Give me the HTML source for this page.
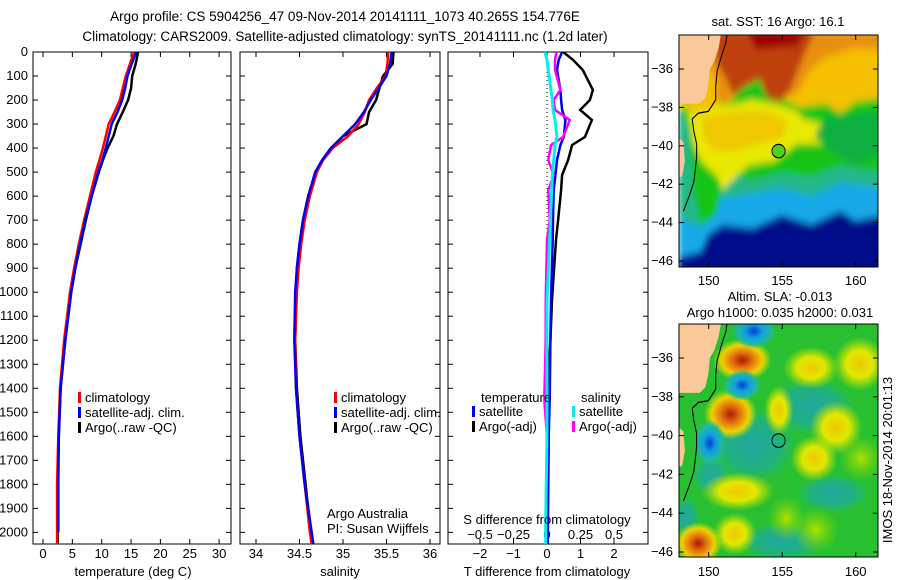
<!DOCTYPE html>
<html><head><meta charset="utf-8"><style>
body{margin:0;background:#fff;}
svg{display:block;font-family:"Liberation Sans",sans-serif;}
text{font-size:12px;fill:#000;}
text.big{font-size:13.5px;}
text.lab{font-size:13px;}
text.leg{font-size:13px;}
</style></head><body>
<svg id="fig" width="900" height="580" viewBox="0 0 900 580">
<defs>
<filter id="blur1" x="-5%" y="-5%" width="110%" height="110%"><feGaussianBlur stdDeviation="0.2"/></filter>
<clipPath id="clipMap1"><rect x="679" y="35" width="199" height="232"/></clipPath>
<clipPath id="clipMap2"><rect x="679" y="324" width="199" height="233"/></clipPath>
<clipPath id="clipP1"><rect x="33" y="52" width="198" height="492"/></clipPath>
<clipPath id="clipP2"><rect x="240" y="52" width="200" height="492"/></clipPath>
<clipPath id="clipP3"><rect x="448" y="52" width="200" height="492"/></clipPath>
</defs>
<text class="big" x="345" y="21" text-anchor="middle">Argo profile: CS 5904256_47 09-Nov-2014 20141111_1073 40.265S 154.776E</text>
<text class="big" x="345" y="41" text-anchor="middle">Climatology: CARS2009. Satellite-adjusted climatology: synTS_20141111.nc (1.2d later)</text>

<g id="p1"></g>
<g id="p2"></g>
<g id="p3"></g>

<g>
<text class="lab" x="778" y="26" text-anchor="middle">sat. SST: 16 Argo: 16.1</text>
<g clip-path="url(#clipMap1)">
<svg x="679" y="35" width="199" height="232" viewBox="148 34.23 13.55 12.07" preserveAspectRatio="none">
<g filter="url(#blur1)">
<rect x="148" y="34" width="14" height="13" fill="#00108a"/>
<polygon points="148,34 162,34 162,43.6 160,43.9 159,43.4 157,44.1 155,43.6 153,44.3 151,44.1 150,44.6 149.5,45.5 148,45.8" fill="#18a8e8"/>
<polygon points="148,34 162,34 162,42.2 159,41.9 157,42.6 155,42.2 152,42.6 150,42.8 149.6,44.2 148,43.8" fill="#20b888"/>
<polygon points="148,34 162,34 162,41.4 159,41 157,41.6 155,41.4 153,41.8 151,41.4 150.6,43.5 149.5,44.2 149,42.6 148.6,39 148,38" fill="#18c418"/>
<polygon points="148.6,38.2 150,38 152,37.8 153,37.6 155,37.9 156,38.2 156.5,38.6 158,38.9 158.5,39.9 156,39.9 154.5,40.8 152.8,41.0 152,41.5 151,42.3 150.6,41.6 149.5,40.8 149,40" fill="#e8e800"/>
<polygon points="149.5,38.5 152,38.2 154,38.2 155.4,38.7 155,39.6 153,40.0 151.5,40.3 150.3,40.2 149.7,39.6" fill="#f0c800"/>
<polygon points="148,34 162,34 162,37.5 160,37.7 159,38.3 158,37.8 156.2,38.0 155,37.5 154.6,36.2 153,36.2 151.5,37.7 149.5,38.2 148,38" fill="#f4c000"/>
<polygon points="149.5,34 162,34 162,35 160,34.9 158,35.4 157,36 156,37.3 155.5,37.4 154.8,36.3 153,35.9 151.7,36.6 151.5,37.7 150.6,37.7 150.5,36.6 149.5,35" fill="#e89010"/>
<polygon points="150.3,34 157.3,34 156.5,35.3 155.5,37.2 154.9,37.7 154,37.5 153.5,36.5 152.5,36.9 151.7,37.4 151.2,36.5 150.6,35.7" fill="#c0400c"/>
<polygon points="152.5,34 156.8,34 156,34.8 153.3,35.0" fill="#a00000"/>
<polygon points="158,38.5 161.6,38.2 161.6,40.5 160,41 158.4,40.3 157.2,39.5" fill="#10b040"/>
</g>
<polygon points="148,34 150.9,34 150.7,34.9 150.4,35.6 150.1,36 150,36.8 149.8,37.5 149.4,37.8 148,37.8" fill="#f9c99a"/>
<polygon points="148,39.6 148.3,39.8 148.4,40.8 148.2,41.6 148,41.6" fill="#f9c99a"/>
<polyline points="151.3,34 151.2,34.6 150.9,35.3 150.6,36.1 150.5,36.9 150.5,37.6 150.0,38.2 149.3,38.3 148.9,38.6 149.0,39.2 149.2,39.9 149.2,40.6 149.1,41.3 149.0,41.9 148.7,42.6 148.3,43.4" fill="none" stroke="#000" stroke-width="0.07"/>
<ellipse cx="154.78" cy="40.27" rx="0.45" ry="0.35" fill="#50d020" stroke="#000" stroke-width="0.06"/>
</svg>
</g>
<rect x="679" y="35" width="199" height="232" fill="none" stroke="#000" stroke-width="1"/>
<g id="map1ticks"></g>
</g>

<g>
<text class="lab" x="780" y="301" text-anchor="middle">Altim. SLA: -0.013</text>
<text class="lab" x="780" y="317" text-anchor="middle">Argo h1000: 0.035 h2000: 0.031</text>
<g clip-path="url(#clipMap2)">
<svg x="679" y="324" width="199" height="233" viewBox="148 34.23 13.55 12.07" preserveAspectRatio="none">
<defs>
<radialGradient id="gRed"><stop offset="0" stop-color="#b01800"/><stop offset="0.35" stop-color="#e07010"/><stop offset="0.7" stop-color="#f0d000"/><stop offset="1" stop-color="#e0e800" stop-opacity="0"/></radialGradient>
<radialGradient id="gYel"><stop offset="0" stop-color="#f0c800"/><stop offset="0.5" stop-color="#e0e800"/><stop offset="1" stop-color="#c0e000" stop-opacity="0"/></radialGradient>
<radialGradient id="gBlue"><stop offset="0" stop-color="#0040d0"/><stop offset="0.4" stop-color="#10a0e0"/><stop offset="0.75" stop-color="#20b8a0"/><stop offset="1" stop-color="#20b890" stop-opacity="0"/></radialGradient>
<radialGradient id="gTeal"><stop offset="0" stop-color="#20a8a0"/><stop offset="0.6" stop-color="#20b080"/><stop offset="1" stop-color="#20b880" stop-opacity="0"/></radialGradient>
<radialGradient id="gLG"><stop offset="0" stop-color="#b0e000"/><stop offset="1" stop-color="#80d800" stop-opacity="0"/></radialGradient>
</defs>
<rect x="148" y="34" width="14" height="13" fill="#28c030"/>
<ellipse cx="153" cy="40.5" rx="3" ry="2" fill="url(#gTeal)"/>
<ellipse cx="157" cy="38.5" rx="3" ry="1.5" fill="url(#gTeal)"/>
<ellipse cx="155" cy="45.5" rx="3" ry="1" fill="url(#gTeal)"/>
<ellipse cx="158.5" cy="43" rx="2.5" ry="1" fill="url(#gTeal)"/>
<ellipse cx="150.2" cy="42.1" rx="1.3" ry="1" fill="url(#gTeal)"/>
<ellipse cx="148.5" cy="44.2" rx="0.9" ry="1" fill="url(#gTeal)"/>
<ellipse cx="152.3" cy="36.1" rx="2" ry="1.1" fill="url(#gRed)"/>
<ellipse cx="151.5" cy="38.9" rx="1.8" ry="1.3" fill="url(#gRed)"/>
<ellipse cx="149.3" cy="45.6" rx="1.6" ry="1.1" fill="url(#gRed)"/>
<ellipse cx="160.3" cy="36.3" rx="1.8" ry="1.4" fill="url(#gYel)"/>
<ellipse cx="157" cy="36.5" rx="1.9" ry="1.1" fill="url(#gYel)"/>
<ellipse cx="154.8" cy="38.7" rx="1" ry="1.3" fill="url(#gYel)"/>
<ellipse cx="157.2" cy="41.2" rx="1.6" ry="1.2" fill="url(#gYel)"/>
<ellipse cx="152" cy="42.9" rx="2.5" ry="1" fill="url(#gYel)"/>
<ellipse cx="151.8" cy="45.1" rx="1.5" ry="1.1" fill="url(#gYel)"/>
<ellipse cx="158.7" cy="39.6" rx="1.8" ry="1.4" fill="url(#gYel)"/>
<ellipse cx="160.4" cy="41.2" rx="1.5" ry="1.2" fill="url(#gLG)"/>
<ellipse cx="157.3" cy="44.9" rx="1.6" ry="1.2" fill="url(#gLG)"/>
<ellipse cx="155.3" cy="44.3" rx="1.3" ry="1.2" fill="url(#gLG)"/>
<ellipse cx="153.1" cy="34.6" rx="1.5" ry="0.9" fill="url(#gBlue)"/>
<ellipse cx="152.3" cy="37.4" rx="1.3" ry="0.8" fill="url(#gBlue)"/>
<ellipse cx="150.1" cy="40.4" rx="1.1" ry="1.2" fill="url(#gBlue)"/>
<polygon points="148,34 150.9,34 150.7,34.9 150.4,35.6 150.1,36 150,36.8 149.8,37.5 149.4,37.8 148,37.8" fill="#f9c99a"/>
<polygon points="148,39.6 148.3,39.8 148.4,40.8 148.2,41.6 148,41.6" fill="#f9c99a"/>
<polyline points="151.3,34 151.2,34.6 150.9,35.3 150.6,36.1 150.5,36.9 150.5,37.6 150.0,38.2 149.3,38.3 148.9,38.6 149.0,39.2 149.2,39.9 149.2,40.6 149.1,41.3 149.0,41.9 148.7,42.6 148.3,43.4" fill="none" stroke="#000" stroke-width="0.07"/>
<ellipse cx="154.78" cy="40.27" rx="0.45" ry="0.35" fill="none" stroke="#000" stroke-width="0.06"/>
</svg>
</g>
<rect x="679" y="324" width="199" height="233" fill="none" stroke="#000" stroke-width="1"/>
<g id="map2ticks"></g>
<text class="lab" transform="translate(892,460) rotate(-90)" text-anchor="middle">IMOS 18-Nov-2014 20:01:13</text>
</g>
</svg>
<script>
// ---- data ----
const depthP = [0,50,100,150,200,250,300,350,400,450,500,600,700,800,900,1000,1200,1400,1600,1800,2000,2050];
const tempClim = [15.5,14.8,14.1,13.6,13.1,12.2,11.2,10.7,10.2,9.6,9.0,8.0,7.0,6.1,5.3,4.6,3.6,2.9,2.6,2.4,2.4,2.4];
const tempSat = [15.9,15.1,14.4,14.0,13.5,12.7,11.7,11.2,10.7,10.1,9.4,8.3,7.2,6.3,5.5,4.8,3.8,3.0,2.7,2.6,2.6,2.6];
const tempArgo = [16.2,15.8,15.2,15.0,14.5,13.6,12.6,12.0,11.0,10.2,9.5,8.3,7.3,6.4,5.5,4.8,3.8,3.0,2.7,2.5,2.5,2.5];
const salClim = [35.52,35.51,35.49,35.39,35.30,35.25,35.18,35.06,34.88,34.77,34.70,34.62,34.56,34.52,34.49,34.47,34.45,34.46,34.50,34.56,34.62,34.64];
const salSat = [35.56,35.54,35.50,35.41,35.32,35.24,35.14,35.00,34.86,34.76,34.68,34.60,34.54,34.50,34.47,34.45,34.44,34.46,34.50,34.56,34.64,34.66];
const salArgo = [35.58,35.57,35.46,35.42,35.38,35.30,35.27,35.00,34.88,34.77,34.69,34.60,34.54,34.50,34.47,34.46,34.45,34.47,34.51,34.57,34.63,34.64];
const depthD = [0,33,75,158,200,241,283,354,387,450,512,575,700,783,1032,1200,1449,1600,1948,2050];
const tDiffArgo = [0.48,0.78,1.07,1.37,1.28,0.99,1.34,1.13,0.75,0.63,0.45,0.42,0.33,0.27,0.15,0.1,0.0,0.05,0.0,0.0];
const tDiffSat = [0.45,0.35,0.30,0.40,0.42,0.45,0.55,0.50,0.40,0.30,0.25,0.20,0.18,0.17,0.12,0.1,0.08,0.05,0.03,0.02];
const sDiffSat = [-0.015,0.0,0.01,0.03,0.04,0.045,0.06,0.075,0.06,0.05,0.04,0.035,0.025,0.02,0.0,0.0,0.0,0.0,-0.01,-0.01];
const sDiffArgo = [0.07,0.06,0.06,0.1,0.05,0.06,0.17,0.12,0.03,0.01,0.05,0.01,0.02,0.0,-0.01,-0.01,-0.02,0.0,-0.01,-0.01];
const depthTicks = [0,100,200,300,400,500,600,700,800,900,1000,1100,1200,1300,1400,1500,1600,1700,1800,1900,2000];
const tempTicks = [0,5,10,15,20,25,30];
const salTicks = [34,34.5,35,35.5,36];
const tDiffTicks = [-2,-1,0,1,2];
const sDiffTicks = [-0.5,-0.25,0,0.25,0.5];
const latTicks = [-36,-38,-40,-42,-44,-46];
const lonTicks = [150,155,160];

// ---- scales ----
const TOP=52, BOT=544;
const yD = d => TOP + d*0.2402;
const xT = t => 43 + t*5.87;
const xS = s => 256 + (s-34)*87;
const xTd = v => 547 + v*33.5;
const xSd = v => 547 + v*134;
const mapLon = lo => 708.7 + (lo-150)*14.7;
const NS='http://www.w3.org/2000/svg';
function el(tag, attrs, parent){const e=document.createElementNS(NS,tag);for(const k in attrs)e.setAttribute(k,attrs[k]);parent.appendChild(e);return e;}
function txt(parent,x,y,s,anchor,cls){const t=el('text',{x:x,y:y,'text-anchor':anchor||'start'},parent);if(cls)t.setAttribute('class',cls);t.textContent=s;return t;}

function frame(g,L,R){
  el('rect',{x:L,y:TOP,width:R-L,height:BOT-TOP,fill:'none',stroke:'#000','stroke-width':1},g);
  depthTicks.forEach(d=>{
    el('line',{x1:L,x2:L+5,y1:yD(d),y2:yD(d),stroke:'#000'},g);
    el('line',{x1:R-5,x2:R,y1:yD(d),y2:yD(d),stroke:'#000'},g);
  });
}
function xticks(g,ticks,fx,labelY){
  ticks.forEach(v=>{
    const x=fx(v);
    el('line',{x1:x,x2:x,y1:TOP,y2:TOP+5,stroke:'#000'},g);
    el('line',{x1:x,x2:x,y1:BOT-5,y2:BOT,stroke:'#000'},g);
    if(labelY){const t=txt(g,x,labelY,String(v).replace('-','\u2212'),'middle','lab');
    
    }
  });
}
function line(g,clip,xs,ys,fx,color,w,name){
  const pts=xs.map((v,i)=>fx(v).toFixed(1)+','+yD(ys[i]).toFixed(1)).join(' ');
  const p=el('polyline',{points:pts,fill:'none',stroke:color,'stroke-width':w,'clip-path':'url(#'+clip+')'},g);
  
  
}
function legend(g,x,y,items){
  items.forEach((it,i)=>{
    const r=el('rect',{x:x,y:y+i*15-10,width:3,height:11,fill:it[1]},g);
    
    
    const t=txt(g,x+7,y+i*15,it[0],'start','leg');
    
    
  });
}

// panel 1
const g1=document.getElementById('p1');
frame(g1,33,231);
depthTicks.forEach(d=>{const t=txt(g1,28,yD(d)+4,String(d),'end','lab');

});
xticks(g1,tempTicks,xT,558);
line(g1,'clipP1',tempArgo,depthP,xT,'#000',2.5,'temp-argo-line');
line(g1,'clipP1',tempClim,depthP,xT,'#f00',2.5,'temp-climatology-line');
line(g1,'clipP1',tempSat,depthP.slice(0,21),xT,'#0000f0',2.5,'temp-satellite-line');
legend(g1,78,402,[['climatology','#f00'],['satellite-adj. clim.','#0000f0'],['Argo(..raw -QC)','#000']]);
const xl1=txt(g1,133,576,'temperature (deg C)','middle','lab');



// panel 2
const g2=document.getElementById('p2');
frame(g2,240,440);
xticks(g2,salTicks,xS,558);
line(g2,'clipP2',salArgo,depthP,xS,'#000',2.5,'salinity-argo-line');
line(g2,'clipP2',salClim,depthP,xS,'#f00',2.5,'salinity-climatology-line');
line(g2,'clipP2',salSat,depthP,xS,'#0000f0',2.5,'salinity-satellite-line');
legend(g2,334,402,[['climatology','#f00'],['satellite-adj. clim.','#0000f0'],['Argo(..raw -QC)','#000']]);
const xl2=txt(g2,340,576,'salinity','middle','lab');


const ack1=txt(g2,327,518,'Argo Australia','start','lab');


const ack2=txt(g2,327,533,'PI: Susan Wijffels','start','lab');



// panel 3
const g3=document.getElementById('p3');
frame(g3,448,648);
xticks(g3,tDiffTicks,xTd,558);
sDiffTicks.forEach(v=>{const t=txt(g3,xSd(v),539,String(v).replace('-','\u2212'),'middle','lab');

});
for(let y=TOP;y<BOT;y+=4){el('rect',{x:546.5,y:y,width:1,height:1,fill:'#000'},g3);}
line(g3,'clipP3',tDiffArgo,depthD,xTd,'#000',2.5,'tdiff-argo-line');
line(g3,'clipP3',tDiffSat,depthD,xTd,'#0000f0',2.5,'tdiff-satellite-line');
line(g3,'clipP3',sDiffArgo,depthD,xSd,'#f0f',2.5,'sdiff-argo-line');
line(g3,'clipP3',sDiffSat,depthD,xSd,'#00f0f0',3,'sdiff-satellite-line');
const lh1=txt(g3,481,402,'temperature','start','leg');


const lh2=txt(g3,581,402,'salinity','start','leg');


legend(g3,472,416,[['satellite','#0000f0'],['Argo(-adj)','#000']]);
legend(g3,572,416,[['satellite','#00f0f0'],['Argo(-adj)','#f0f']]);
const st=txt(g3,547,524,'S difference from climatology','middle','lab');


const tt=txt(g3,547,576,'T difference from climatology','middle','lab');



// map ticks
function mapTicks(id,top,bot,lat36,scale,lonLabelY){
  const g=document.getElementById(id);
  latTicks.forEach(la=>{
    const y=lat36+(-36-la)*scale;
    el('line',{x1:679,x2:684,y1:y,y2:y,stroke:'#000'},g);
    el('line',{x1:873,x2:878,y1:y,y2:y,stroke:'#000'},g);
    const t=txt(g,673,y+4,String(la).replace('-','\u2212'),'end','lab');
    
    
  });
  lonTicks.forEach(lo=>{
    const x=mapLon(lo);
    el('line',{x1:x,x2:x,y1:top,y2:top+5,stroke:'#000'},g);
    el('line',{x1:x,x2:x,y1:bot-5,y2:bot,stroke:'#000'},g);
    const t=txt(g,x,lonLabelY,String(lo),'middle','lab');
    
    
  });
}
mapTicks('map1ticks',35,267,69,19.2,285);
mapTicks('map2ticks',324,557,358,19.4,576);
</script>
</body></html>
